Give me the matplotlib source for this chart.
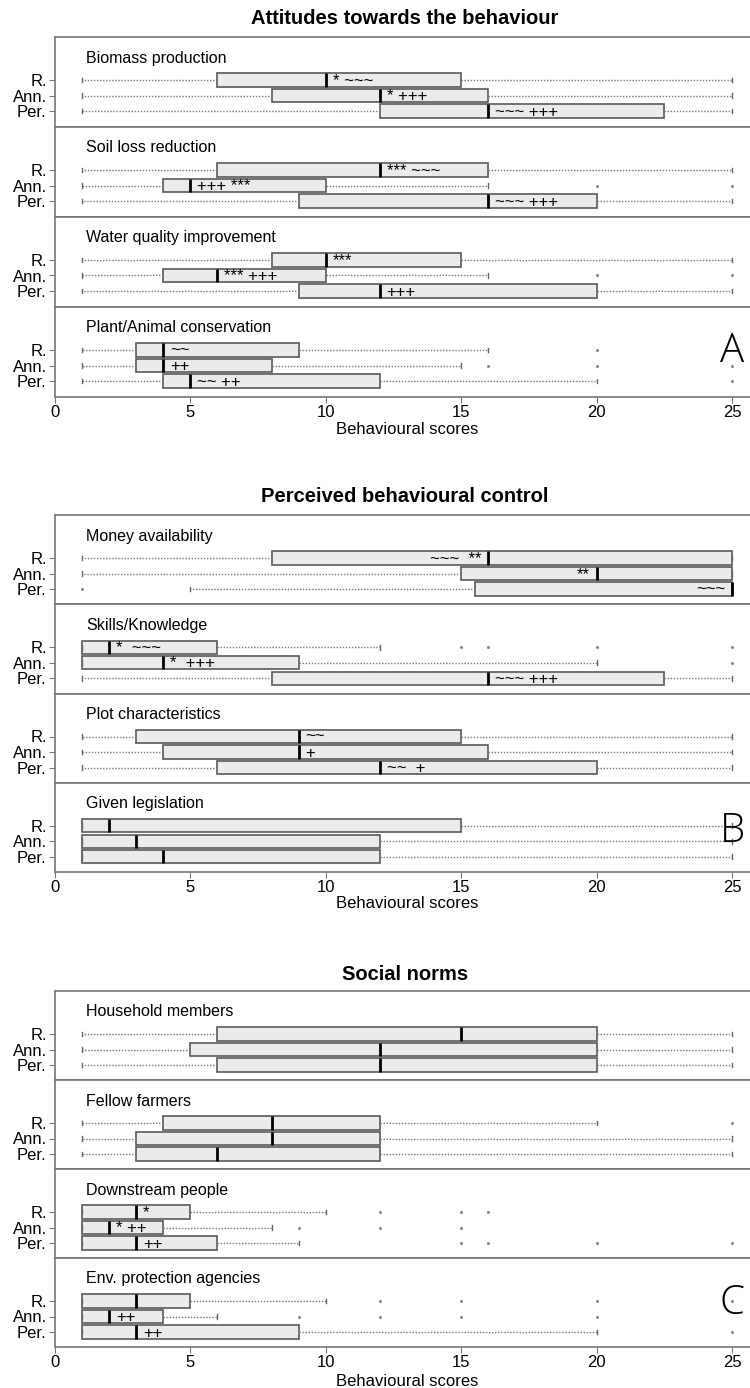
import matplotlib
matplotlib.use("Agg")
import matplotlib.pyplot as plt

plt.rcParams['font.family'] = ['Liberation Sans', 'DejaVu Sans']

groups = ["R.", "Ann.", "Per."]
x_ticks = [0, 5, 10, 15, 20, 25]

# rows: R., Ann., Per. -> (whisker low, q1, median, q3, whisker high, outliers)
biomass = [(1, 6, 10, 15, 25, []), (1, 8, 12, 16, 25, []), (1, 12, 16, 22.5, 25, [])]
biomass_txt = ["* ~~~", "* +++", "~~~ +++"]
soil = [(1, 6, 12, 16, 25, []), (1, 4, 5, 10, 16, [20, 25]), (1, 9, 16, 20, 25, [])]
soil_txt = ["*** ~~~", "+++ ***", "~~~ +++"]
water = [(1, 8, 10, 15, 25, []), (1, 4, 6, 10, 16, [20, 25]), (1, 9, 12, 20, 25, [])]
water_txt = ["***", "*** +++", "+++"]
plant = [(1, 3, 4, 9, 16, [20]), (1, 3, 4, 8, 15, [16, 20, 25]), (1, 4, 5, 12, 20, [25])]
plant_txt = ["~~", "++", "~~ ++"]

money = [(1, 8, 16, 25, 25, []), (1, 15, 20, 25, 25, []), (5, 15.5, 25, 25, 25, [1])]
money_txt = ["~~~  **", "**", "~~~"]
skills = [(1, 1, 2, 6, 12, [15, 16, 20, 25]), (1, 1, 4, 9, 20, [25]), (1, 8, 16, 22.5, 25, [])]
skills_txt = ["*  ~~~", "*  +++", "~~~ +++"]
plotchar = [(1, 3, 9, 15, 25, []), (1, 4, 9, 16, 25, []), (1, 6, 12, 20, 25, [])]
plotchar_txt = ["~~", "+", "~~  +"]
legis = [(1, 1, 2, 15, 25, []), (1, 1, 3, 12, 25, []), (1, 1, 4, 12, 25, [])]
legis_txt = ["", "", ""]

household = [(1, 6, 15, 20, 25, []), (1, 5, 12, 20, 25, []), (1, 6, 12, 20, 25, [])]
household_txt = ["", "", ""]
fellow = [(1, 4, 8, 12, 20, [25]), (1, 3, 8, 12, 25, []), (1, 3, 6, 12, 25, [])]
fellow_txt = ["", "", ""]
downstream = [(1, 1, 3, 5, 10, [12, 15, 16]), (1, 1, 2, 4, 8, [9, 12, 15]), (1, 1, 3, 6, 9, [15, 16, 20, 25])]
downstream_txt = ["*", "* ++", "++"]
env = [(1, 1, 3, 5, 10, [12, 15, 20, 25]), (1, 1, 2, 4, 6, [9, 12, 15, 20]), (1, 1, 3, 9, 20, [25])]
env_txt = ["", "++", "++"]

W, H = 750, 1388
fig = plt.figure(figsize=(W / 100, H / 100), dpi=100)

u = 15.5      # pixels per row unit
row_off = 43  # pixels from subpanel top to R. row
left_px = 55


def draw_sub(ax, stats, marks, name, h, side="right", bottom=False):
    st = []
    for lo, q1, med, q3, hi, out in stats:
        st.append(dict(whislo=lo, q1=q1, med=med, q3=q3, whishi=hi, fliers=out))
    ax.bxp(st, positions=[3, 2, 1], widths=0.85, orientation="horizontal",
           patch_artist=True, manage_ticks=False, capwidths=0.3,
           boxprops=dict(facecolor="#ebebeb", edgecolor="#5a5a5a", linewidth=1.2),
           whiskerprops=dict(color="#777777", linewidth=1, linestyle=(0, (1, 1.2))),
           capprops=dict(color="#666666", linewidth=1),
           medianprops=dict(color="black", linewidth=2),
           flierprops=dict(marker="o", markersize=2.2, markerfacecolor="#8a8a8a",
                           markeredgecolor="none"))
    top = 3 + row_off / u
    ax.set_ylim(top - h / u, top)
    ax.set_xlim(0, (W - left_px) / 27.08)
    ax.set_yticks([3, 2, 1])
    ax.set_yticklabels(groups, fontsize=12)
    ax.tick_params(axis="y", length=4, color="#777777", pad=2)
    for s in ["top", "bottom", "left"]:
        ax.spines[s].set_color("#777777")
        ax.spines[s].set_linewidth(1.2)
    ax.spines["right"].set_visible(False)
    if bottom:
        ax.set_xticks(x_ticks)
        ax.set_xticklabels([str(t) for t in x_ticks], fontsize=12)
        ax.tick_params(axis="x", length=4, color="#777777", pad=2)
    else:
        ax.set_xticks([])
    ax.text(1.15, top - 21 / u, name, fontsize=11.5, va="center", ha="left")
    for pos, (lo, q1, med, q3, hi, out), txt in zip([3, 2, 1], stats, marks):
        if not txt:
            continue
        if side == "right":
            ax.text(med + 0.25, pos - 0.07, txt, fontsize=12, va="center", ha="left")
        else:
            ax.text(med - 0.25, pos - 0.07, txt, fontsize=12, va="center", ha="right")


def panel(top_px, h, title, title_y, names, stats_list, marks_list, sides, letter, letter_y, xlabel_y):
    for i in range(4):
        t = top_px + i * h
        ax = fig.add_axes([left_px / W, 1 - (t + h) / H, (W - left_px) / W, h / H])
        draw_sub(ax, stats_list[i], marks_list[i], names[i], h, sides[i], bottom=(i == 3))
    fig.text(405 / W, 1 - title_y / H, title, fontsize=14.5, fontweight="bold",
             ha="center", va="center")
    fig.text(407 / W, 1 - xlabel_y / H, "Behavioural scores", fontsize=12,
             ha="center", va="center")
    fig.text(732 / W, 1 - letter_y / H, letter, fontsize=29, ha="center", va="center",
             family=["Open Sans", "DejaVu Sans"], fontweight="light")


panel(37, 90, "Attitudes towards the behaviour", 18,
      ["Biomass production", "Soil loss reduction", "Water quality improvement",
       "Plant/Animal conservation"],
      [biomass, soil, water, plant], [biomass_txt, soil_txt, water_txt, plant_txt],
      ["right"] * 4, "A", 352, 430)

panel(515, 89.25, "Perceived behavioural control", 497,
      ["Money availability", "Skills/Knowledge", "Plot characteristics", "Given legislation"],
      [money, skills, plotchar, legis], [money_txt, skills_txt, plotchar_txt, legis_txt],
      ["left", "right", "right", "right"], "B", 832, 903)

panel(991, 89, "Social norms", 975,
      ["Household members", "Fellow farmers", "Downstream people", "Env. protection agencies"],
      [household, fellow, downstream, env],
      [household_txt, fellow_txt, downstream_txt, env_txt],
      ["right"] * 4, "C", 1303, 1382)

fig.savefig("out.png", dpi=100)
